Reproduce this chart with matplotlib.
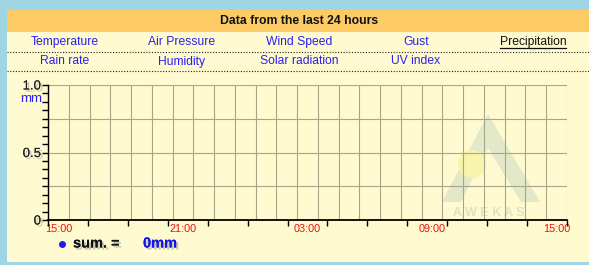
import numpy as np
import matplotlib.pyplot as plt
import matplotlib.patheffects as pe
from matplotlib.patches import Rectangle, Polygon, Circle

plt.rcParams['font.family'] = ['Liberation Sans', 'DejaVu Sans']

# data
title = "Data from the last 24 hours"
menu_row1 = ["Temperature", "Air Pressure", "Wind Speed", "Gust", "Precipitation"]
menu_row2 = ["Rain rate", "Humidity", "Solar radiation", "UV index", ""]
active_item = "Precipitation"
time_labels = ["15:00", "21:00", "03:00", "09:00", "15:00"]
n_slots = 25                      # hourly grid columns
rain = np.zeros(n_slots + 1)      # no precipitation in the period
rain_sum = 0
unit = "mm"

W, H = 589, 265
BLUE_BG = "#9fd5e4"
ORANGE = "#fdcb66"
PANEL = "#fffacf"
GRID = "#a9a588"
LINK = "#2a22f0"

fig = plt.figure(figsize=(W / 100, H / 100), dpi=100, facecolor=BLUE_BG)

def px(x, y, w, h):
    return [x / W, 1 - (y + h) / H, w / W, h / H]

bg = fig.add_axes([0, 0, 1, 1])
bg.set_xlim(0, W)
bg.set_ylim(H, 0)
bg.axis("off")
bg.add_patch(Rectangle((7, 10), 590, 252, color=PANEL, lw=0))
bg.add_patch(Rectangle((7, 10), 590, 22, color=ORANGE, lw=0))
bg.text(299, 21.5, title, ha="center", va="center", fontsize=8.8, fontweight="bold", color="#111111")

col_x = [65, 182, 299, 416, 533]
for i, (a, b) in enumerate(zip(menu_row1, menu_row2)):
    c = "#111111" if a == active_item else LINK
    bg.text(col_x[i], 42, a, ha="center", va="center", fontsize=8.7, color=c)
    if a == active_item:
        bg.plot([col_x[i] - 33, col_x[i] + 33], [47.5, 47.5], color="#111111", lw=0.9)
    if b:
        bg.text(col_x[i], 61.5, b, ha="center", va="center", fontsize=8.7, color=LINK)
bg.plot([7, 590], [52, 52], color="#222222", lw=0.8, ls=(0, (1, 1.5)))
bg.plot([7, 590], [71, 71], color="#222222", lw=0.8, ls=(0, (1, 1.5)))

# watermark
wm = "#e2e8c8"
bg.add_patch(Polygon([[488, 114], [540, 202], [521, 202], [488, 148], [461, 202], [442, 202]],
                     closed=True, color=wm, lw=0))
bg.add_patch(Circle((472, 164), 14, color="#f7f4ac", lw=0))
bg.text(489, 213, "A W E K A S", ha="center", va="center", fontsize=9, color="#dde3c2", fontweight="bold")

shadow = [pe.withSimplePatchShadow(offset=(1.5, -1.5), shadow_rgbFace="#888888", alpha=0.45), pe.Normal()]

ax = fig.add_axes(px(48, 85, 519, 135))
ax.patch.set_alpha(0)
x = np.arange(n_slots + 1)
ax.plot(x, rain, color="blue", lw=1, alpha=0)
ax.set_xlim(0, n_slots)
ax.set_ylim(0, 1.0)
for xi in range(1, n_slots + 1):
    ax.axvline(xi, color=GRID, lw=0.8, zorder=0)
for yi in [0.25, 0.5, 0.75, 1.0]:
    ax.axhline(yi, color=GRID, lw=0.8, zorder=0)
for s in ["top", "right"]:
    ax.spines[s].set_visible(False)
ax.spines["left"].set_color("black")
ax.spines["bottom"].set_color("black")
ax.spines["bottom"].set_linewidth(1.3)
ax.spines["left"].set_linewidth(1.0)

ax.set_xticks([0.5 + 6 * i for i in range(len(time_labels))], time_labels)
ax.set_xticks(np.linspace(0, n_slots, 14), minor=True)
ax.tick_params(axis="x", which="major", length=0, pad=3, labelsize=7.8, labelcolor="#ee1111")
ax.tick_params(axis="x", which="minor", length=4, direction="out", color="black", width=1)
ax.set_yticks([0, 0.5, 1.0], ["0", "0.5", "1.0"])
ax.set_yticks(np.arange(0, 1.0001, 0.0625), minor=True)
ax.tick_params(axis="y", which="both", length=4, direction="out", color="black", width=1)
ax.tick_params(axis="y", which="major", pad=1, labelsize=9.5, labelcolor="#222222")
for lbl in ax.get_yticklabels():
    lbl.set_path_effects(shadow)

bg.text(42, 99, unit, ha="right", va="center", fontsize=9.5, color=LINK)

bg.plot([62], [243.5], "o", color="#1d1df0", ms=4)
bg.text(73, 243.5, "sum. =", ha="left", va="center", fontsize=10.5, fontweight="bold",
        color="#111111", path_effects=shadow)
bg.text(143, 243.5, f"{rain_sum}{unit}", ha="left", va="center", fontsize=10.5, fontweight="bold",
        color="#1212ee", path_effects=shadow)

fig.savefig("out.png", dpi=100, facecolor=BLUE_BG)
